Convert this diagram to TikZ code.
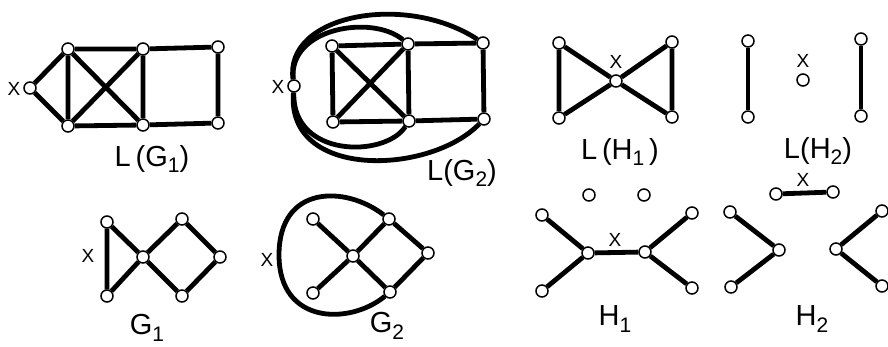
\documentclass[tikz,border=0pt]{standalone}
\usepackage{fontspec}
\setmainfont{Liberation Sans}
\newcommand{\lsub}[1]{\raisebox{-0.22em}{\fontsize{21}{21}\selectfont #1}}
\begin{document}
\begin{tikzpicture}[x=1pt,y=-1pt,
  vtx/.style={circle,draw,fill=white,inner sep=0pt,minimum size=12pt,line width=1.5pt},
  edge/.style={line width=4.8pt},
  xlab/.style={font=\fontsize{19}{19}\selectfont,inner sep=0pt},
  glab/.style={font=\fontsize{29}{29}\selectfont,inner sep=0pt}]
\useasboundingbox (0,0) rectangle (888,347);
% ---------- L(G1)
\node[vtx] (a1) at (30,88) {};
\node[vtx] (a2) at (68,49) {};
\node[vtx] (a3) at (68,126) {};
\node[vtx] (a4) at (143,49) {};
\node[vtx] (a5) at (143,125) {};
\node[vtx] (a6) at (218,47) {};
\node[vtx] (a7) at (218,123) {};
\node[xlab] (ax) at (14,89) {X};
\node[glab] (al) at (152,159) {L\,(G\lsub{1})};
\draw[edge] (a1)--(a2) (a1)--(a3) (a2)--(a3) (a2)--(a4) (a3)--(a5)
  (a2)--(a5) (a3)--(a4) (a4)--(a5) (a4)--(a6) (a5)--(a7) (a6)--(a7);
% ---------- L(G2)
\node[vtx] (b1) at (294,86) {};
\node[vtx] (b2) at (332,46) {};
\node[vtx] (b3) at (333,122) {};
\node[vtx] (b4) at (408,44) {};
\node[vtx] (b5) at (409,121) {};
\node[vtx] (b6) at (483,43) {};
\node[vtx] (b7) at (484,119) {};
\node[xlab] (bx) at (278,87) {X};
\node[glab] (bl) at (462,173) {L(G\lsub{2})};
\draw[edge] (b2)--(b4) (b2)--(b3) (b3)--(b5) (b4)--(b5) (b2)--(b5) (b3)--(b4)
  (b4)--(b6) (b5)--(b7) (b6)--(b7);
\draw[edge] (b1) .. controls (284,15) and (405,-8) .. (b6);
\draw[edge] (b1) .. controls (288,28) and (372,14) .. (b4);
\draw[edge] (b1) .. controls (286,180) and (430,175) .. (b7);
\draw[edge] (b1) .. controls (292,158) and (385,158) .. (b5);
% ---------- L(H1)
\node[vtx] (c1) at (559,43) {};
\node[vtx] (c2) at (559,118) {};
\node[vtx] (c3) at (616,81) {};
\node[vtx] (c4) at (672,42) {};
\node[vtx] (c5) at (672,117) {};
\node[xlab] (cx) at (616,62) {X};
\node[glab] (cl) at (620,152) {L\,(H\lsub{1}\,)};
\draw[edge] (c1)--(c2) (c1)--(c3) (c2)--(c3) (c3)--(c4) (c3)--(c5) (c4)--(c5);
% ---------- L(H2)
\node[vtx] (d1) at (748,41) {};
\node[vtx] (d2) at (748,117) {};
\node[vtx] (d3) at (861,39) {};
\node[vtx] (d4) at (861,116) {};
\node[vtx] (d5) at (803,80) {};
\node[xlab] (dx) at (803,61) {X};
\node[glab] (dl) at (818,151) {L(H\lsub{2})};
\draw[edge] (d1)--(d2) (d3)--(d4);
% ---------- G1
\node[vtx] (e1) at (107,222) {};
\node[vtx] (e2) at (107,296) {};
\node[vtx] (e3) at (143,257) {};
\node[vtx] (e4) at (182,219) {};
\node[vtx] (e5) at (220,257) {};
\node[vtx] (e6) at (182,296) {};
\node[xlab] (ex) at (88,256) {X};
\node[glab] (el) at (147,328) {G\lsub{1}};
\draw[edge] (e1)--(e2) (e1)--(e3) (e2)--(e3) (e3)--(e4) (e3)--(e6) (e4)--(e5) (e6)--(e5);
% ---------- G2
\node[vtx] (f1) at (313,219) {};
\node[vtx] (f2) at (313,293) {};
\node[vtx] (f3) at (353,256) {};
\node[vtx] (f4) at (389,219) {};
\node[vtx] (f5) at (428,253) {};
\node[vtx] (f6) at (390,292) {};
\node[xlab] (fx) at (267,260) {X};
\node[glab] (fl) at (387,326) {G\lsub{2}};
\draw[edge] (f1)--(f3) (f2)--(f3) (f3)--(f4) (f3)--(f6) (f4)--(f5) (f6)--(f5);
\draw[edge] (f4) .. controls (345,185) and (279,185) .. (279,255)
  .. controls (279,325) and (350,325) .. (f6);
% ---------- H1
\node[vtx] (g1) at (589,195) {};
\node[vtx] (g2) at (644,195) {};
\node[vtx] (g3) at (542,215) {};
\node[vtx] (g4) at (542,291) {};
\node[vtx] (g5) at (588,253) {};
\node[vtx] (g6) at (645,252) {};
\node[vtx] (g7) at (692,213) {};
\node[vtx] (g8) at (692,288) {};
\node[xlab] (gx) at (615,240) {X};
\node[glab] (gl) at (615,319) {H\lsub{1}};
\draw[edge] (g3)--(g5) (g4)--(g5) (g5)--(g6) (g6)--(g7) (g6)--(g8);
% ---------- H2
\node[vtx] (h1) at (776,194) {};
\node[vtx] (h2) at (833,192) {};
\node[vtx] (h3) at (730,212) {};
\node[vtx] (h4) at (779,250) {};
\node[vtx] (h5) at (731,287) {};
\node[vtx] (h6) at (882,211) {};
\node[vtx] (h7) at (836,249) {};
\node[vtx] (h8) at (882,286) {};
\node[xlab] (hx) at (803,180) {X};
\node[glab] (hl) at (812,319) {H\lsub{2}};
\draw[edge] (h1)--(h2) (h3)--(h4) (h4)--(h5) (h6)--(h7) (h7)--(h8);
\end{tikzpicture}
\end{document}
